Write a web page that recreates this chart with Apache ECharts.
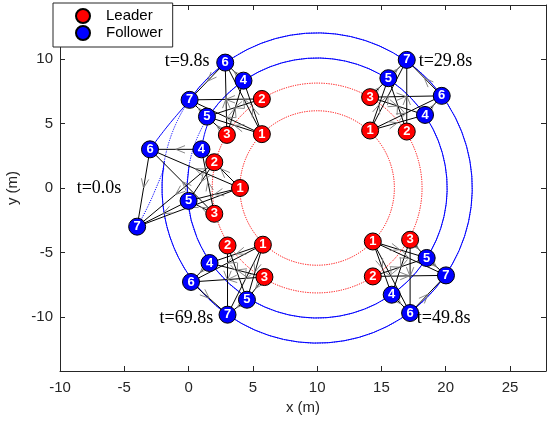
<!DOCTYPE html>
<html>
<head>
<meta charset="utf-8">
<script src="https://cdn.jsdelivr.net/npm/echarts@6/dist/echarts.min.js"></script>
<style>
    html, body { margin: 0; padding: 0; background: #fff; }
    #chart { width: 547px; height: 423px; }
</style>
</head>
<body>
<div id="chart"></div>
<script>
// snapshot labels and where they sit
const snapLabels = ['t=0.0s', 't=9.8s', 't=29.8s', 't=49.8s', 't=69.8s']
const snapLabelX = [-8.7, 1.62, 17.9, 17.75, 1.92]
const snapLabelY = [0, 9.85, 9.85, -10.08, -10.08]
const snapLabelAlign = ['left', 'right', 'left', 'left', 'right']

// agent 1..7 positions for each snapshot
const agentX = [
    [4, 2, 2, 1, 0, -3, -4],
    [5.70, 5.70, 2.98, 4.27, 1.43, 2.85, 0.08],
    [14.12, 16.97, 14.12, 18.39, 15.54, 19.69, 16.97],
    [14.33, 14.33, 17.23, 15.80, 18.52, 17.23, 20.02],
    [5.78, 3.03, 5.90, 1.63, 4.54, 0.19, 3.03],
]
const agentY = [
    [0, 2, -2, 3, -1, 3, -3],
    [4.18, 6.91, 4.12, 8.33, 5.54, 9.73, 6.84],
    [4.46, 4.38, 7.05, 5.67, 8.52, 7.15, 9.94],
    [-4.15, -6.86, -4.02, -8.28, -5.43, -9.70, -6.78],
    [-4.40, -4.46, -6.91, -5.82, -8.67, -7.29, -9.83],
]
const leaderIds = [1, 2, 3]
const followerIds = [4, 5, 6, 7]

// communication graph, [from, to]
const edges = [
    [1, 4], [1, 5], [1, 6], [1, 7], [2, 5], [2, 7],
    [3, 4], [3, 5], [3, 6], [4, 6], [6, 7], [5, 7],
]

// circular trajectories round the target (angles in degrees, clockwise motion)
const orbitCenter = [10, 0]
const orbitRadius = [6, 8.15, 10.1, 10.1, 12.05, 12.05]
const orbitFrom = [180, 194, 186, 145, 173, 145]
const orbitTo = [-180, -166, -174, -190, -187, -190]
const orbitColor = ['#ff0000', '#ff0000', '#0000ff', '#0000ff', '#0000ff', '#0000ff']
const orbitDotted = [true, true, true, false, true, false]

// start-up paths of followers before they reach their circle
const path4 = [[1, 3], [1.3, 4.4], [1.81, 5.74]]
const path6 = [[-3, 3], [-1.55, 4.9], [0.17, 6.88]]
const path7 = [[-4, -3], [-3.2, -1.5], [-2.4, 0.3], [-1.92, 1.5]]

const xTicks = [-10, -5, 0, 5, 10, 15, 20, 25]
const yTicks = [-10, -5, 0, 5, 10]

const AXIS_COLOR = '#262626'
const SANS = 'Liberation Sans, Arial, sans-serif'

const nodeData = (ids) => {
    let list = []
    agentX.forEach((row, s) => {
        ids.forEach(id => list.push([row[id - 1], agentY[s][id - 1], id]))
    })
    return list
}

const edgeData = () => {
    let list = []
    agentX.forEach((row, s) => {
        edges.forEach(([a, b]) => {
            list.push([row[a - 1], agentY[s][a - 1], row[b - 1], agentY[s][b - 1]])
        })
    })
    return list
}

const renderOrbit = (params, api) => {
    const i = params.dataIndex
    const c = api.coord([api.value(0), api.value(1)])
    const s = api.size([api.value(2), api.value(2)])
    return {
        type: 'arc',
        shape: {
            cx: c[0], cy: c[1], r: (s[0] + s[1]) / 2,
            startAngle: -orbitFrom[i] * Math.PI / 180,
            endAngle: -orbitTo[i] * Math.PI / 180,
            clockwise: true,
        },
        style: {
            stroke: orbitColor[i],
            fill: null,
            lineWidth: 1,
            lineDash: orbitDotted[i] ? [1.2, 1.2] : null,
        },
    }
}

const renderEdge = (params, api) => {
    const p1 = api.coord([api.value(0), api.value(1)])
    const p2 = api.coord([api.value(2), api.value(3)])
    return {
        type: 'line',
        shape: { x1: p1[0], y1: p1[1], x2: p2[0], y2: p2[1] },
        style: { stroke: '#000', lineWidth: 1 },
    }
}

// gray arrow head in the middle of every link, pointing to the receiver
const renderArrow = (params, api) => {
    const p1 = api.coord([api.value(0), api.value(1)])
    const p2 = api.coord([api.value(2), api.value(3)])
    const mx = (p1[0] + p2[0]) / 2
    const my = (p1[1] + p2[1]) / 2
    const ang = Math.atan2(p2[1] - p1[1], p2[0] - p1[0])
    const len = 10, spread = 0.38
    return {
        type: 'polyline',
        shape: {
            points: [
                [mx - len * Math.cos(ang - spread), my - len * Math.sin(ang - spread)],
                [mx, my],
                [mx - len * Math.cos(ang + spread), my - len * Math.sin(ang + spread)],
            ],
        },
        style: { stroke: '#7a7a7a', lineWidth: 0.9, fill: null },
    }
}

const renderSnapLabel = (params, api) => {
    const i = params.dataIndex
    const p = api.coord([api.value(0), api.value(1)])
    return {
        type: 'text',
        x: p[0], y: p[1],
        style: {
            text: snapLabels[i],
            align: snapLabelAlign[i],
            verticalAlign: 'middle',
            font: '18px "Liberation Serif", "Times New Roman", serif',
            fill: '#000',
        },
    }
}

const pathSeries = (data, dotted) => ({
    type: 'line',
    data,
    smooth: true,
    symbol: 'none',
    silent: true,
    z: 1,
    lineStyle: { color: '#0000ff', width: 1, type: dotted ? [1.2, 1.2] : 'solid' },
})

const nodeSeries = (name, ids, color) => ({
    name,
    type: 'scatter',
    data: nodeData(ids),
    symbol: 'circle',
    symbolSize: 17,
    z: 5,
    itemStyle: { color, borderColor: '#000', borderWidth: 1, opacity: 1 },
    label: {
        show: true,
        position: 'inside',
        formatter: (p) => p.value[2],
        color: '#fff',
        fontWeight: 'bold',
        fontSize: 13,
        fontFamily: SANS,
    },
})

const axisCommon = {
    type: 'value',
    axisLine: { show: true, onZero: false, lineStyle: { color: AXIS_COLOR, width: 1 } },
    splitLine: { show: false },
}

const chart = echarts.init(document.getElementById('chart'))
chart.setOption({
    animation: false,
    backgroundColor: '#fff',
    grid: { left: 60, right: 1, top: 5, bottom: 52, outerBoundsMode: 'none' },
    legend: {
        data: ['Leader', 'Follower'],
        orient: 'vertical',
        left: 53,
        top: 3,
        padding: [5, 10, 6, 22],
        itemGap: 1,
        itemWidth: 14,
        itemHeight: 14,
        icon: 'circle',
        backgroundColor: '#fff',
        borderColor: AXIS_COLOR,
        borderWidth: 1,
        borderRadius: 0,
        z: 10,
        textStyle: { fontSize: 15, fontFamily: SANS, color: '#000', padding: [0, 0, 0, 11] },
    },
    xAxis: [
        {
            ...axisCommon,
            min: -10, max: 27.8,
            position: 'bottom',
            name: 'x (m)',
            nameLocation: 'middle',
            nameGap: 28,
            nameTextStyle: { fontSize: 15, fontFamily: SANS, color: AXIS_COLOR },
            axisTick: { show: true, inside: true, length: 5, customValues: xTicks, lineStyle: { color: AXIS_COLOR } },
            axisLabel: { customValues: xTicks, margin: 9, fontSize: 15, fontFamily: SANS, color: AXIS_COLOR },
        },
        {
            ...axisCommon,
            min: -10, max: 27.8,
            position: 'top',
            axisTick: { show: true, inside: true, length: 5, customValues: xTicks, lineStyle: { color: AXIS_COLOR } },
            axisLabel: { show: false },
        },
    ],
    yAxis: [
        {
            ...axisCommon,
            min: -14.2, max: 14.2,
            position: 'left',
            name: 'y (m)',
            nameLocation: 'middle',
            nameGap: 31,
            nameTextStyle: { fontSize: 15, fontFamily: SANS, color: AXIS_COLOR },
            axisTick: { show: true, inside: true, length: 5, customValues: yTicks, lineStyle: { color: AXIS_COLOR } },
            axisLabel: { customValues: yTicks, margin: 7, fontSize: 15, fontFamily: SANS, color: AXIS_COLOR },
        },
        {
            ...axisCommon,
            min: -14.2, max: 14.2,
            position: 'right',
            axisTick: { show: true, inside: true, length: 5, customValues: yTicks, lineStyle: { color: AXIS_COLOR } },
            axisLabel: { show: false },
        },
    ],
    series: [
        {
            type: 'custom',
            renderItem: renderOrbit,
            data: orbitRadius.map(r => [orbitCenter[0], orbitCenter[1], r]),
            silent: true,
            z: 1,
        },
        pathSeries(path4, false),
        pathSeries(path6, false),
        pathSeries(path7, true),
        {
            type: 'custom',
            renderItem: renderEdge,
            data: edgeData(),
            silent: true,
            z: 3,
        },
        {
            type: 'custom',
            renderItem: renderArrow,
            data: edgeData(),
            silent: true,
            z: 4,
        },
        nodeSeries('Leader', leaderIds, '#ff0000'),
        nodeSeries('Follower', followerIds, '#0000ff'),
        {
            type: 'custom',
            renderItem: renderSnapLabel,
            data: snapLabelX.map((x, i) => [x, snapLabelY[i]]),
            silent: true,
            z: 6,
        },
    ],
})
</script>
</body>
</html>
